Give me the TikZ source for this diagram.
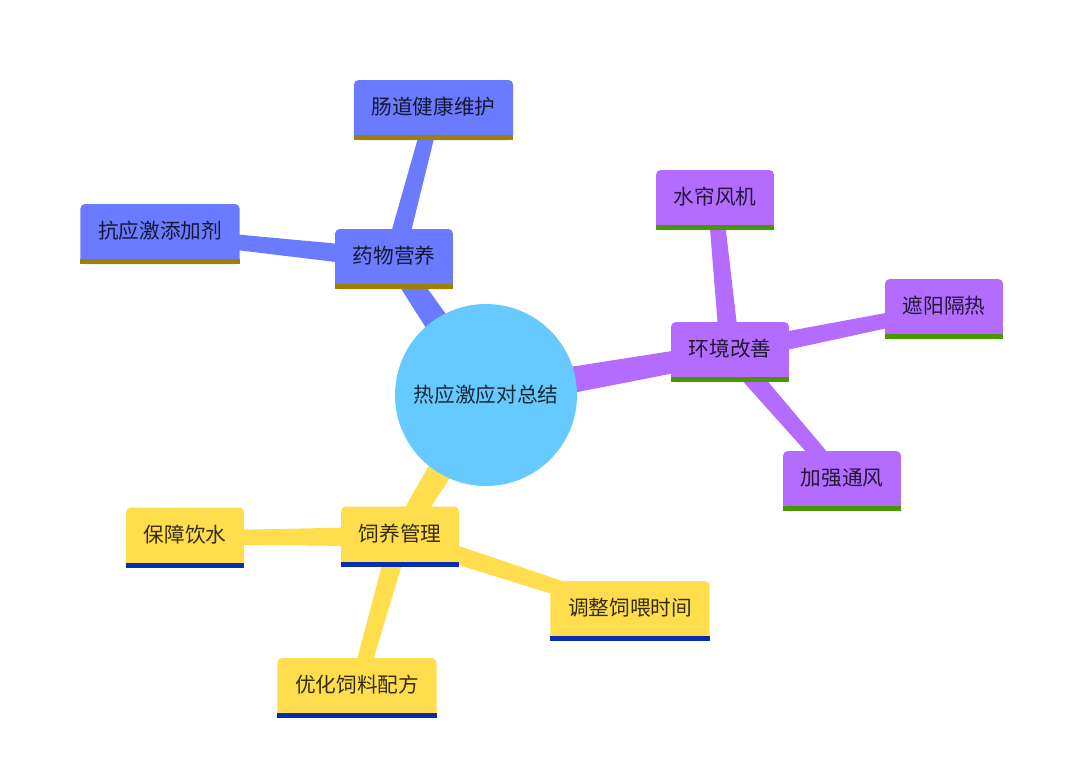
\documentclass[tikz,border=0pt]{standalone}
\usepackage{fontspec}
\setmainfont{Noto Sans CJK SC}
\usetikzlibrary{backgrounds,calc}
\definecolor{rootblue}{HTML}{66C9FF}
\definecolor{drugbox}{HTML}{6A7BFF}
\definecolor{drugline}{HTML}{9E7F00}
\definecolor{envbox}{HTML}{B36CFF}
\definecolor{envline}{HTML}{4A9600}
\definecolor{feedbox}{HTML}{FFDD4D}
\definecolor{feedline}{HTML}{0A2DB0}
\tikzset{
  topic/.style={fill=#1, rounded corners=3.5pt, minimum height=45pt,
    inner xsep=13.2pt, inner ysep=0pt, text height=12.5pt, text depth=5.2pt,
    text=black, text opacity=0.8, font=\fontsize{15.5}{18}\selectfont},
  rootnode/.style={circle, fill=rootblue, minimum size=136.5pt, inner sep=0pt,
    text=black, text opacity=0.8, font=\fontsize{15.5}{18}\selectfont}
}
% tapered branch: from, to, half width at start, half width at end, colour
\newcommand{\branch}[5]{%
  \fill[#5] let \p1=(#1), \p2=(#2), \n1={atan2(\y2-\y1,\x2-\x1)} in
    ($(\p1)+(\n1+90:#3)$) -- ($(\p2)+(\n1+90:#4)$) --
    ($(\p2)+(\n1-90:#4)$) -- ($(\p1)+(\n1-90:#3)$) -- cycle;}
\begin{document}
\begin{tikzpicture}[x=0.75pt,y=-0.75pt]
  \useasboundingbox (0,0) rectangle (1080,779);

  % centre
  \node[rootnode] (root) at (486,395) {热应激应对总结};

  % drugs and nutrition
  \node[topic=drugbox] (yy) at (394,259) {药物营养};
  \node[topic=drugbox] (cd) at (433.5,110) {肠道健康维护};
  \node[topic=drugbox] (kyj) at (160,234) {抗应激添加剂};

  % environment
  \node[topic=envbox] (hj) at (730,352) {环境改善};
  \node[topic=envbox] (sl) at (715,200) {水帘风机};
  \node[topic=envbox] (zy) at (944,309) {遮阳隔热};
  \node[topic=envbox] (jq) at (842,481) {加强通风};

  % feeding management
  \node[topic=feedbox] (sy) at (400,536.5) {饲养管理};
  \node[topic=feedbox] (bz) at (185,537.5) {保障饮水};
  \node[topic=feedbox] (tz) at (630,611) {调整饲喂时间};
  \node[topic=feedbox] (yh) at (357,688) {优化饲料配方};

  % underline bars
  \foreach \n/\c in {yy/drugline, cd/drugline, kyj/drugline,
                     hj/envline, sl/envline, zy/envline, jq/envline,
                     sy/feedline, bz/feedline, tz/feedline, yh/feedline}
    \fill[\c] ([yshift=3.75pt]\n.south west) rectangle (\n.south east);

  \begin{pgfonlayer}{background}
    \branch{root}{yy}{11pt}{7.5pt}{drugbox}
    \branch{yy}{cd}{7.5pt}{5.5pt}{drugbox}
    \branch{yy}{kyj}{7.5pt}{5pt}{drugbox}
    \branch{root}{hj}{11pt}{7.5pt}{envbox}
    \branch{hj}{sl}{7.5pt}{5.5pt}{envbox}
    \branch{hj}{zy}{7.5pt}{5pt}{envbox}
    \branch{hj}{jq}{7.5pt}{5.5pt}{envbox}
    \branch{root}{sy}{11pt}{7.5pt}{feedbox}
    \branch{sy}{bz}{7.5pt}{5pt}{feedbox}
    \branch{sy}{tz}{7.5pt}{5pt}{feedbox}
    \branch{sy}{yh}{7.5pt}{5.5pt}{feedbox}
  \end{pgfonlayer}
\end{tikzpicture}
\end{document}
